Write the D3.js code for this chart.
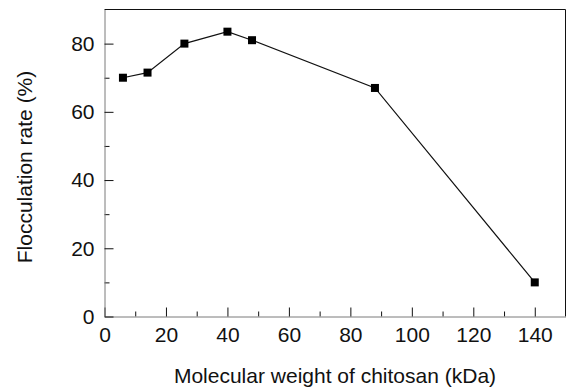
<!DOCTYPE html>
<html>
<head>
<meta charset="utf-8">
<script src="https://cdn.jsdelivr.net/npm/d3@7"></script>
<style>
  body { margin: 0; background: #fff; }
  svg text { font-family: "Liberation Sans", Arial, sans-serif; fill: #111; }
</style>
</head>
<body>
<div id="chart"></div>
<script>
// molecular weight of chitosan (kDa) and flocculation rate (%)
var molWeight = [6, 14, 26, 40, 48, 88, 140];
var floccRate = [70, 71.5, 80, 83.5, 81, 67, 10];

var xMajor = [0, 20, 40, 60, 80, 100, 120, 140];
var xMinor = [10, 30, 50, 70, 90, 110, 130];
var yMajor = [0, 20, 40, 60, 80];
var yMinor = [10, 30, 50, 70];

var margin = {top: 9.5, right: 1.5, bottom: 73.5, left: 104.5},
	width = 567 - margin.left - margin.right,
	height = 390 - margin.top - margin.bottom;

var svg = d3.select('#chart')
	.append('svg')
	.attr('width', 567)
	.attr('height', 390);

var g = svg.append('g')
	.attr('transform', 'translate(' + margin.left + ',' + margin.top + ')');

var x = d3.scaleLinear()
	.domain([0, 150])
	.range([0, width]);

var y = d3.scaleLinear()
	.domain([0, 90])
	.range([height, 0]);

var points = molWeight.map(function(d, i) { return {mw: d, rate: floccRate[i]}; });

// frame top and right
g.append('line')
	.attr('x1', 0).attr('x2', width)
	.attr('y1', 0).attr('y2', 0)
	.attr('stroke', '#111');
g.append('line')
	.attr('x1', width).attr('x2', width)
	.attr('y1', 0).attr('y2', height)
	.attr('stroke', '#111');

// minor ticks
g.append('g')
	.attr('transform', 'translate(0,' + height + ')')
	.call(d3.axisBottom(x).tickValues(xMinor).tickSizeInner(-5).tickSizeOuter(0).tickFormat(''))
	.call(function(a) { a.select('.domain').remove(); });

g.append('g')
	.call(d3.axisLeft(y).tickValues(yMinor).tickSizeInner(-5).tickSizeOuter(0).tickFormat(''))
	.call(function(a) { a.select('.domain').remove(); });

// major axes
var xAxis = g.append('g')
	.attr('transform', 'translate(0,' + height + ')')
	.call(d3.axisBottom(x).tickValues(xMajor).tickSizeInner(-9).tickSizeOuter(0).tickPadding(11));

var yAxis = g.append('g')
	.call(d3.axisLeft(y).tickValues(yMajor).tickSizeInner(-9).tickSizeOuter(0).tickPadding(10));

[xAxis, yAxis].forEach(function(a) {
	a.select('.domain').attr('stroke', '#7a7a7a');
	a.selectAll('.tick line').attr('stroke', '#111');
	a.selectAll('text').style('font-size', '21px').attr('fill', '#111');
});

g.selectAll('.tick line').attr('stroke', '#111');

// series line
var line = d3.line()
	.x(function(d) { return x(d.mw); })
	.y(function(d) { return y(d.rate); });

g.append('path')
	.datum(points)
	.attr('fill', 'none')
	.attr('stroke', '#111')
	.attr('stroke-width', 1.2)
	.attr('d', line);

g.selectAll('rect.pt')
	.data(points)
	.enter()
	.append('rect')
	.attr('class', 'pt')
	.attr('x', function(d) { return x(d.mw) - 4; })
	.attr('y', function(d) { return y(d.rate) - 4; })
	.attr('width', 8)
	.attr('height', 8)
	.attr('fill', '#000');

// axis titles
svg.append('text')
	.attr('x', margin.left + width / 2)
	.attr('y', 383)
	.attr('text-anchor', 'middle')
	.style('font-size', '21px')
	.text('Molecular weight of chitosan (kDa)');

svg.append('text')
	.attr('transform', 'translate(32,167) rotate(-90)')
	.attr('text-anchor', 'middle')
	.style('font-size', '21px')
	.text('Flocculation rate (%)');
</script>
</body>
</html>
